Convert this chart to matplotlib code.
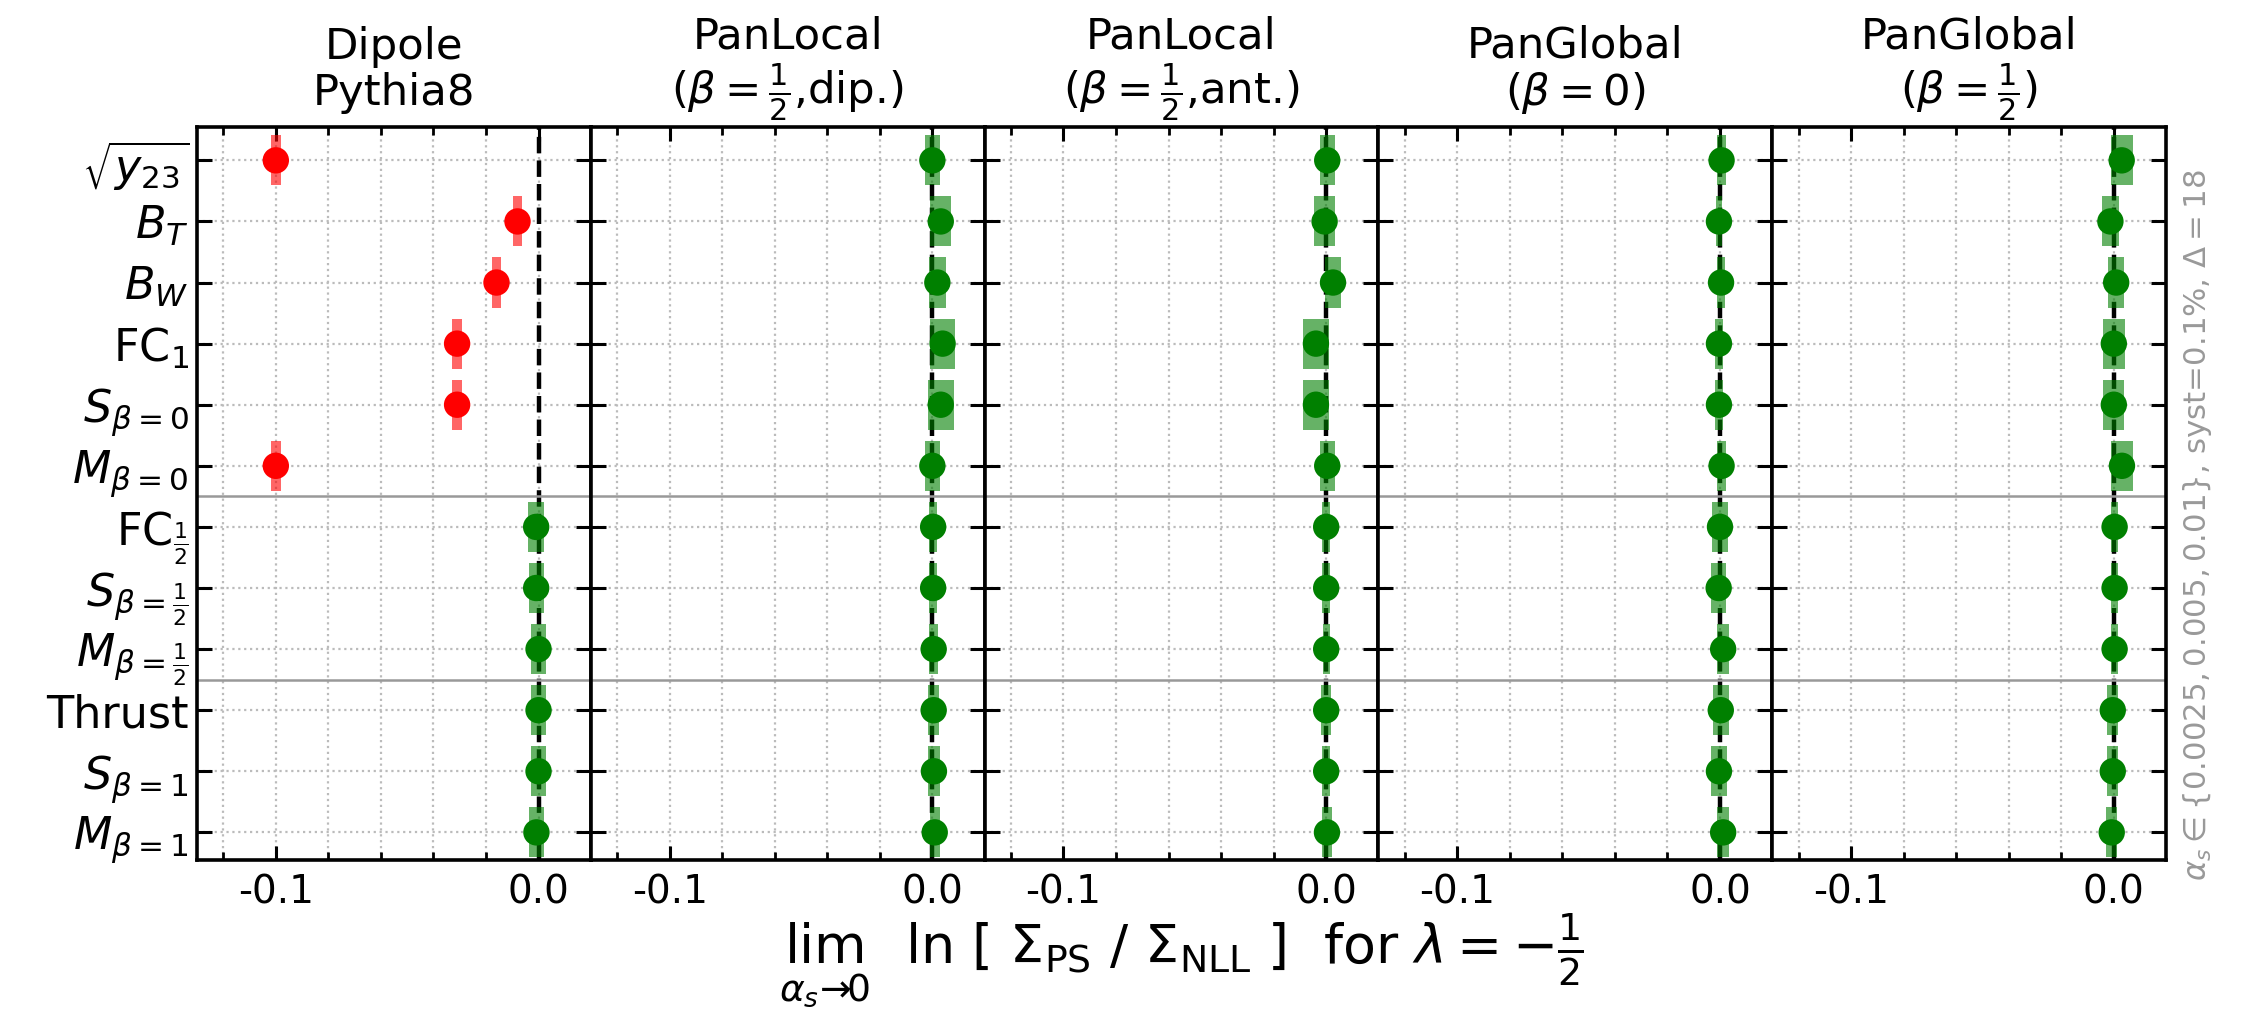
import matplotlib
matplotlib.use("Agg")
import matplotlib.pyplot as plt
from matplotlib.ticker import MultipleLocator, FormatStrFormatter, FixedLocator

plt.rcParams["axes.unicode_minus"] = False
plt.rcParams["font.family"] = ["DejaVu Sans"]
plt.rcParams["mathtext.fontset"] = "dejavusans"

# observables, top to bottom
observables = [r"$\sqrt{y_{23}}$", r"$B_T$", r"$B_W$", r"FC$_1$", r"$S_{\beta=0}$", r"$M_{\beta=0}$",
               r"FC$_{\frac{1}{2}}$", r"$S_{\beta=\frac{1}{2}}$", r"$M_{\beta=\frac{1}{2}}$",
               "Thrust", r"$S_{\beta=1}$", r"$M_{\beta=1}$"]

showers = ["Dipole\nPythia8",
           "PanLocal\n" + r"($\beta=\frac{1}{2}$,dip.)",
           "PanLocal\n" + r"($\beta=\frac{1}{2}$,ant.)",
           "PanGlobal\n" + r"($\beta=0$)",
           "PanGlobal\n" + r"($\beta=\frac{1}{2}$)"]

dipole_val = [-0.100, -0.008, -0.016, -0.031, -0.031, -0.100, -0.0009, -0.0009, 0.0, 0.0, 0.0, -0.0008]
dipole_err = [0.0018, 0.0018, 0.0018, 0.0018, 0.0018, 0.0018, 0.0030, 0.0029, 0.0029, 0.0030, 0.0027, 0.0029]

panlocal_dip_val = [0.0, 0.0032, 0.0019, 0.0039, 0.0032, 0.0, 0.0003, 0.0003, 0.0005, 0.0005, 0.0006, 0.0009]
panlocal_dip_err = [0.0029, 0.0040, 0.0032, 0.0049, 0.0049, 0.0028, 0.0016, 0.0015, 0.0016, 0.0022, 0.0022, 0.0019]

panlocal_ant_val = [0.0004, -0.0006, 0.0026, -0.0039, -0.0039, 0.0004, 0.0, 0.0, 0.0, 0.0, 0.0, 0.0003]
panlocal_ant_err = [0.0028, 0.0040, 0.0031, 0.0049, 0.0049, 0.0028, 0.0016, 0.0015, 0.0013, 0.0018, 0.0016, 0.0020]

panglobal0_val = [0.0006, -0.0004, 0.0004, -0.0004, -0.0004, 0.0006, 0.0, -0.0005, 0.0012, 0.0003, -0.0004, 0.0012]
panglobal0_err = [0.0017, 0.0013, 0.0016, 0.0015, 0.0014, 0.0017, 0.0030, 0.0029, 0.0022, 0.0030, 0.0029, 0.0022]

panglobal_half_val = [0.0030, -0.0013, 0.0009, 0.0, 0.0, 0.0031, 0.0003, 0.0003, 0.0003, -0.0004, -0.0004, -0.0008]
panglobal_half_err = [0.0042, 0.0032, 0.0030, 0.0042, 0.0040, 0.0043, 0.0013, 0.0013, 0.0013, 0.0021, 0.0021, 0.0021]

values = [dipole_val, panlocal_dip_val, panlocal_ant_val, panglobal0_val, panglobal_half_val]
errors = [dipole_err, panlocal_dip_err, panlocal_ant_err, panglobal0_err, panglobal_half_err]

group_breaks = [5.5, 8.5]   # between observable groups

fig, axes = plt.subplots(1, 5, figsize=(11.27, 5.07), dpi=200, sharey=True)
plt.subplots_adjust(left=0.0874, right=0.961, top=0.875, bottom=0.152, wspace=0)

rows = list(range(len(observables)))

for ax, title, val, err in zip(axes, showers, values, errors):
    # red = clearly incompatible with zero
    cols = ["red" if abs(v) > 3 * e else "green" for v, e in zip(val, err)]
    ax.axvline(0.0, color="black", ls="--", lw=1.6, zorder=2)
    for yb in group_breaks:
        ax.axhline(yb, color="#999999", lw=0.9, zorder=2)
    ax.barh(rows, [2 * e for e in err], left=[v - e for v, e in zip(val, err)], height=0.82,
            color=cols, alpha=0.6, zorder=3, linewidth=0)
    ax.scatter(val, rows, s=9.5 ** 2, c=cols, zorder=4, linewidths=0)

    ax.set_xlim(-0.13, 0.0199)
    ax.set_ylim(11.45, -0.55)
    ax.xaxis.set_major_locator(FixedLocator([-0.1, 0.0]))
    ax.xaxis.set_minor_locator(MultipleLocator(0.02))
    ax.xaxis.set_major_formatter(FormatStrFormatter("%.1f"))
    ax.set_yticks(rows)
    ax.grid(which="both", ls=":", color="#bbbbbb", lw=0.8, zorder=1)
    ax.tick_params(axis="x", which="both", direction="in", top=True, bottom=True, labelsize=14, pad=5)
    ax.tick_params(axis="x", which="major", length=5, width=1.1)
    ax.tick_params(axis="x", which="minor", length=3, width=1.0)
    ax.tick_params(axis="y", which="both", direction="in", left=True, right=True, length=5.5,
                   width=1.1, labelsize=16, pad=3)
    for s in ax.spines.values():
        s.set_linewidth(1.3)
    ax.set_title(title, fontsize=15.6, pad=8, linespacing=1.1)

axes[0].set_yticklabels(observables)

fig.text(0.524, 0.05,
         r"$\lim_{\alpha_s\!\!\to\!\!0}\ $ ln [ $\Sigma_{\rm PS}$ / $\Sigma_{\rm NLL}$ ]  for $\lambda = -\frac{1}{2}$",
         ha="center", va="baseline", fontsize=19.4)
fig.text(0.975, 0.482, r"$\alpha_s \in \{0.0025, 0.005, 0.01\}$, syst=0.1%, $\Delta=18$",
         rotation=90, ha="center", va="center", fontsize=11.1, color="#999999")

fig.savefig("out.png", dpi=200, facecolor="white")
